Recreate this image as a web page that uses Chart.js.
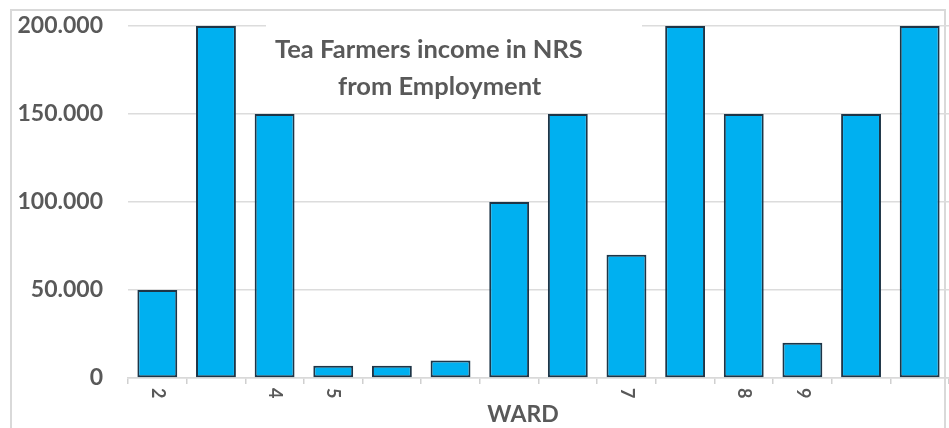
<!DOCTYPE html>
<html>
<head>
<meta charset="utf-8">
<script src="https://cdn.jsdelivr.net/npm/chart.js@4/dist/chart.umd.min.js"></script>
<style>
  html, body { margin: 0; padding: 0; background: #fff; overflow: hidden; }
  #wrap { position: relative; width: 949px; height: 428px; }
  #frame {
    position: absolute; left: 10px; top: 9px; width: 936px; height: 440px;
    border: 2px solid #d9d9d9; box-sizing: border-box;
  }
  #chart { position: absolute; left: 0; top: 0; }
</style>
</head>
<body>
<div id="wrap">
  <div id="frame"></div>
  <canvas id="chart" width="949" height="428"></canvas>
</div>
<script>
// wards along the bottom; only some of them carry a number
var wards = ['2', '', '4', '5', '', '', '', '', '7', '', '8', '9', '', '']
// income per farmer group, NRS
var income = [50000, 200000, 150000, 7000, 7000, 10000, 100000, 150000, 70000, 200000, 150000, 20000, 150000, 200000]
var yTicks = [0, 50000, 100000, 150000, 200000]
var titleLines = ['Tea Farmers income in NRS', 'from Employment']
var axisTitle = 'WARD'

var grey = '#595959'
var font = 'Lato, "Open Sans", sans-serif'

function dotThousands(v) {
  return String(v).replace(/\B(?=(\d{3})+(?!\d))/g, '.')
}

// title sits on a white box inside the plot, over the top grid line
var titleBox = {
  id: 'titleBox',
  beforeDatasetsDraw: function (chart) {
    var ctx = chart.ctx
    ctx.save()
    ctx.fillStyle = '#fff'
    ctx.fillRect(266, 14, 376, 92)
    ctx.fillStyle = grey
    ctx.font = 'bold 25.5px ' + font
    ctx.textBaseline = 'alphabetic'
    ctx.textAlign = 'left'
    ctx.fillText(titleLines[0], 275, 58)
    ctx.fillText(titleLines[1], 338, 95)
    ctx.restore()
  }
}

// category labels turned a quarter clockwise, plus the axis name
var wardLabels = {
  id: 'wardLabels',
  afterDraw: function (chart) {
    var ctx = chart.ctx
    var x = chart.scales.x
    ctx.save()
    ctx.fillStyle = grey
    ctx.font = 'bold 18px ' + font
    ctx.textAlign = 'left'
    ctx.textBaseline = 'middle'
    wards.forEach(function (w, i) {
      if (!w) return
      ctx.save()
      ctx.translate(x.getPixelForTick(i), x.top + 10)
      ctx.rotate(Math.PI / 2)
      ctx.fillText(w, 0, 0)
      ctx.restore()
    })
    ctx.font = 'bold 23px ' + font
    ctx.textAlign = 'center'
    ctx.textBaseline = 'middle'
    ctx.fillText(axisTitle, 523, 415)
    ctx.restore()
  }
}

var ctx = document.getElementById('chart').getContext('2d')
var chart = new Chart(ctx, {
  type: 'bar',
  data: {
    labels: wards,
    datasets: [
      {
        data: income,
        backgroundColor: '#00b0f0',
        borderColor: '#1d3547',
        borderWidth: 2,
        borderSkipped: false,
        barPercentage: 0.68,
        categoryPercentage: 1
      }
    ]
  },
  options: {
    responsive: false,
    animation: false,
    layout: { padding: { top: 26, left: 0, right: 0, bottom: 0 } },
    plugins: {
      legend: { display: false },
      tooltip: { enabled: false },
      title: { display: false }
    },
    scales: {
      x: {
        grid: { display: true, drawOnChartArea: false, drawTicks: true, tickLength: 6, color: '#d0d0d0', lineWidth: 1.5 },
        border: { display: true, color: '#d9d9d9', width: 1.5 },
        ticks: { display: false },
        afterFit: function (s) { s.height = 50 }
      },
      y: {
        min: 0,
        max: 200000,
        afterBuildTicks: function (s) { s.ticks = yTicks.map(function (v) { return { value: v } }) },
        grid: { color: '#dcdcdc', lineWidth: 1.5, drawTicks: false },
        border: { display: false },
        ticks: {
          padding: 25,
          color: grey,
          font: { family: font, size: 23, weight: 'bold' },
          callback: function (v) { return dotThousands(v) }
        },
        afterFit: function (s) {
          s.width = 128
          s.paddingTop = 0
          s.paddingBottom = 0
        }
      }
    }
  },
  plugins: [titleBox, wardLabels]
})
</script>
</body>
</html>
